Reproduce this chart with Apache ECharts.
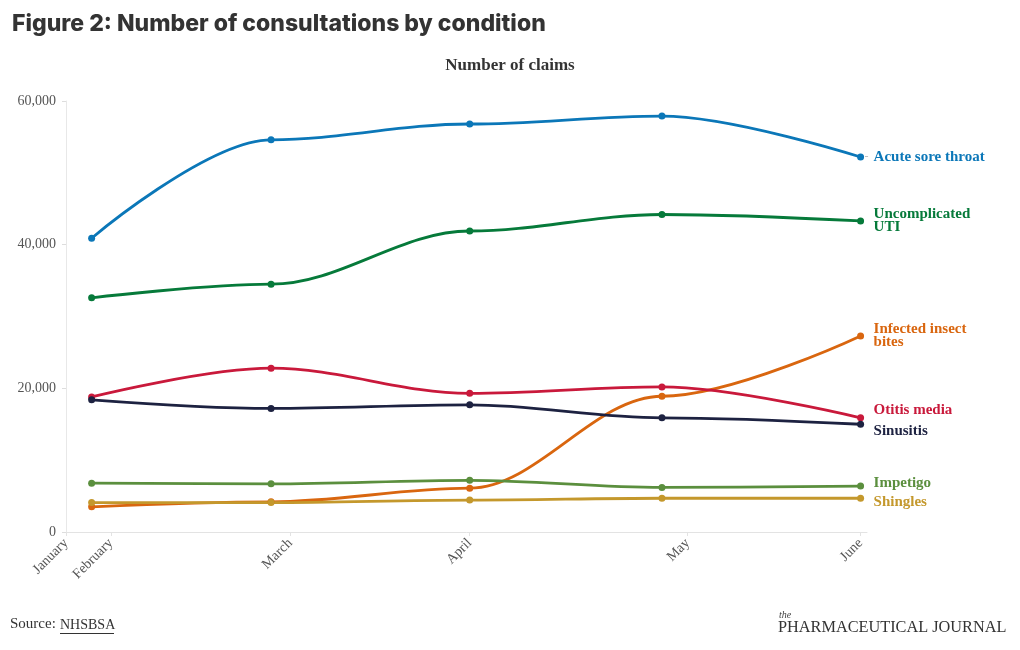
<!DOCTYPE html>
<html>
<head>
<meta charset="utf-8">
<script src="https://cdn.jsdelivr.net/npm/echarts@6/dist/echarts.min.js"></script>
<style>
html,body{margin:0;padding:0;background:#fff;}
#c{width:1020px;height:650px;}
</style>
</head>
<body>
<div id="c"></div>
<script>
// x positions are day-of-year of each data point (month ends)
const pointDays = [31, 59, 90, 120, 151];
const tickDays = [27, 34, 62, 90, 124, 151];
const tickLabels = ['January', 'February', 'March', 'April', 'May', 'June'];
const yTicks = [0, 20000, 40000, 60000];

const acuteSoreThroat = [40900, 54600, 56800, 57900, 52200];
const uncomplicatedUTI = [32600, 34500, 41900, 44200, 43300];
const infectedInsectBites = [3500, 4200, 6100, 18900, 27300];
const otitisMedia = [18800, 22800, 19300, 20200, 15900];
const sinusitis = [18400, 17200, 17700, 15900, 15000];
const impetigo = [6800, 6700, 7200, 6200, 6400];
const shingles = [4100, 4100, 4450, 4700, 4700];

const seriesDefs = [
  {name: 'Acute sore throat', label: 'Acute sore throat', data: acuteSoreThroat, color: '#0b77b8', dy: 0, dash: true},
  {name: 'Uncomplicated UTI', label: 'Uncomplicated\nUTI', data: uncomplicatedUTI, color: '#067a3a', dy: 0, dash: false},
  {name: 'Infected insect bites', label: 'Infected insect\nbites', data: infectedInsectBites, color: '#d9660f', dy: 0, dash: false},
  {name: 'Otitis media', label: 'Otitis media', data: otitisMedia, color: '#c9193b', dy: -8, dash: false},
  {name: 'Sinusitis', label: 'Sinusitis', data: sinusitis, color: '#1d2241', dy: 7, dash: false},
  {name: 'Impetigo', label: 'Impetigo', data: impetigo, color: '#5b8f3e', dy: -3, dash: false},
  {name: 'Shingles', label: 'Shingles', data: shingles, color: '#c4982c', dy: 4, dash: false}
];

const serif = "'Liberation Serif', 'DejaVu Serif', serif";
const chart = echarts.init(document.getElementById('c'), null, {renderer: 'canvas'});

const series = seriesDefs.map(s => ({
  name: s.name,
  type: 'line',
  data: pointDays.map((d, i) => [d, s.data[i]]),
  smooth: 0.35,
  smoothMonotone: 'x',
  symbol: 'circle',
  symbolSize: 7,
  lineStyle: {width: 2.8, color: s.color},
  itemStyle: {color: s.color},
  emphasis: {disabled: true},
  endLabel: {
    show: true,
    distance: 4,
    offset: [0, s.dy],
    formatter: () => (s.dash ? '{d|-}' : '{d| }') + '{n|' + s.label.split('\n').join('}\n{d| }{n|') + '}',
    rich: {
      d: {color: '#bbbbbb', fontSize: 12, fontFamily: serif, width: 9},
      n: {color: s.color, fontSize: 15, fontWeight: 'bold', fontFamily: serif, lineHeight: 13}
    }
  }
}));

chart.setOption({
  animation: false,
  backgroundColor: '#ffffff',
  title: [
    {text: 'Figure 2: Number of consultations by condition', left: 7, top: 8,
     textStyle: {fontFamily: "Inter, 'Noto Sans', sans-serif", fontWeight: 800, fontSize: 23, color: '#333333'}},
    {text: 'Number of claims', left: 'center', top: 52,
     textStyle: {fontFamily: serif, fontWeight: 'bold', fontSize: 17, color: '#333333'}}
  ],
  grid: {left: 66, right: 153, top: 101, bottom: 118, containLabel: false},
  xAxis: {
    type: 'value',
    min: 27,
    max: 152,
    axisLine: {show: true, lineStyle: {color: '#e3e3e3', width: 1}},
    axisTick: {show: true, customValues: tickDays, length: 4, lineStyle: {color: '#e3e3e3'}},
    axisLabel: {
      customValues: tickDays,
      formatter: v => tickLabels[tickDays.indexOf(Math.round(v))] || '',
      rotate: 45,
      margin: 9,
      color: '#555555',
      fontFamily: serif,
      fontSize: 14
    },
    splitLine: {show: false}
  },
  yAxis: {
    type: 'value',
    min: 0,
    max: 60000,
    interval: 20000,
    axisLine: {show: true, lineStyle: {color: '#e8e8e8', width: 1}},
    axisTick: {show: true, length: 4, lineStyle: {color: '#dddddd'}},
    axisLabel: {
      customValues: yTicks,
      color: '#555555',
      fontFamily: serif,
      fontSize: 14,
      margin: 10,
      formatter: v => v.toLocaleString('en-GB')
    },
    splitLine: {show: false}
  },
  series: series,
  graphic: [
    {type: 'text', left: 10, top: 617, style: {text: 'Source:', fill: '#333333', font: "15px 'Liberation Serif', serif"}},
    {type: 'text', left: 60, top: 618, style: {text: 'NHSBSA', fill: '#333333', font: "14px 'Liberation Serif', serif"}},
    {type: 'line', shape: {x1: 60, y1: 633.5, x2: 114, y2: 633.5}, style: {stroke: '#333333', lineWidth: 1}},
    {type: 'text', left: 779, top: 610, style: {text: 'the', fill: '#444444', font: "italic 10px 'Liberation Serif', serif"}},
    {type: 'text', left: 778, top: 620, style: {text: 'PHARMACEUTICAL JOURNAL', fill: '#333333', font: "16.3px 'Liberation Serif', serif"}}
  ]
});
</script>
</body>
</html>
